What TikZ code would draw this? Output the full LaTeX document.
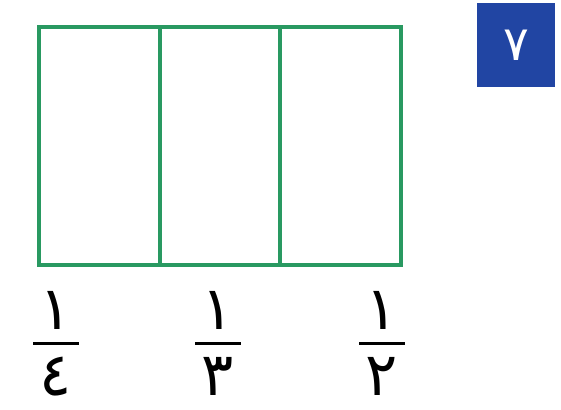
\documentclass[tikz,border=0pt]{standalone}
\usepackage{fontspec}
\newfontfamily\arabicfont[Script=Arabic]{DejaVu Sans}
\usetikzlibrary{calc,positioning}
\definecolor{ShapeClr}{rgb}{0.16,0.6,0.38}
\definecolor{BadgeClr}{rgb}{0.13,0.27,0.64}
\tikzset{
  part/.style={draw=ShapeClr,line width=3.5pt},
  digit/.style={font=\arabicfont\fontsize{60}{70}\selectfont,inner sep=0pt},
  badge/.style={fill=BadgeClr,minimum width=78pt,minimum height=84pt,inner sep=0pt,
    text=white,font=\arabicfont\fontsize{48}{56}\selectfont}
}

\begin{document}
\begin{tikzpicture}[x=1pt,y=-1pt]
\useasboundingbox (0,0) rectangle (561,409);

\draw[part] (39,27) rectangle (401,265);
\draw[part] (160,27) -- (160,265);
\draw[part] (280,27) -- (280,265);

\node[badge] (num) at (516,45) {٧};

\foreach \x/\d/\n in {56/٤/four,218/٣/three,382/٢/two}{
  \node[digit,anchor=south] (top\n) at (\x,330) {١};
  \node[digit,anchor=north] (bot\n) at (\x,357) {\d};
  \draw[line width=3pt] ($(top\n.south)+(-23,13)$) -- ($(top\n.south)+(23,13)$);
}

\end{tikzpicture}
\end{document}
